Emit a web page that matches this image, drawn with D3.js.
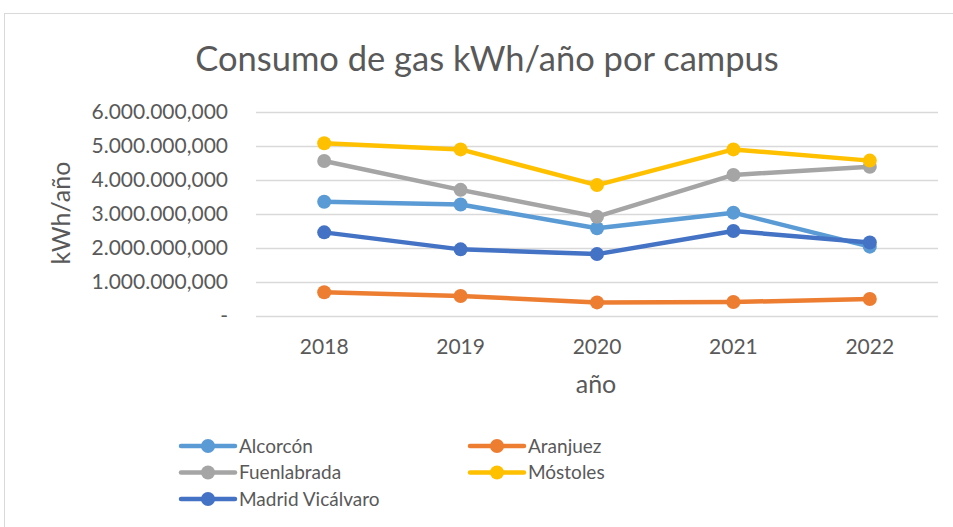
<!DOCTYPE html>
<html>
<head>
<meta charset="utf-8">
<script src="https://cdn.jsdelivr.net/npm/d3@7"></script>
<style>
  body { margin: 0; background: #fff; }
  svg text { font-family: Lato, "Open Sans", sans-serif; fill: #595959; }
</style>
</head>
<body>
<div class="chart"></div>
<script>
// data
const years = ["2018", "2019", "2020", "2021", "2022"];
const seriesNames = ["Alcorcón", "Aranjuez", "Fuenlabrada", "Móstoles", "Madrid Vicálvaro"];
const alcorcon = [3.36e6, 3.28e6, 2.58e6, 3.04e6, 2.04e6];
const aranjuez = [0.70e6, 0.59e6, 0.40e6, 0.41e6, 0.50e6];
const fuenlabrada = [4.56e6, 3.71e6, 2.92e6, 4.15e6, 4.39e6];
const mostoles = [5.08e6, 4.90e6, 3.85e6, 4.90e6, 4.57e6];
const vicalvaro = [2.46e6, 1.96e6, 1.82e6, 2.50e6, 2.16e6];
const yTicks = [0, 1e6, 2e6, 3e6, 4e6, 5e6, 6e6];
const colors = ["#5B9BD5", "#ED7D31", "#A5A5A5", "#FFC000", "#4472C4"];

const allValues = [alcorcon, aranjuez, fuenlabrada, mostoles, vicalvaro];
const series = seriesNames.map((name, i) => ({ name: name, values: allValues[i], color: colors[i] }));

// size of the chart
const w = 953, h = 527;
const plot = { left: 256, right: 938, top: 112, bottom: 316 };

const svg = d3.select("div.chart")
    .append("svg")
    .attr("width", w)
    .attr("height", h);

// chart border
svg.append("rect")
    .attr("x", 4.5).attr("y", 13.5)
    .attr("width", 960).attr("height", 530)
    .attr("fill", "#fff")
    .attr("stroke", "#d9d9d9");

// scales
const xScale = d3.scaleBand()
    .domain(years)
    .range([plot.left, plot.right]);

const yScale = d3.scaleLinear()
    .domain([0, 6e6])
    .range([plot.bottom, plot.top]);

// spanish number format
const es = d3.formatLocale({ decimal: ",", thousands: ".", grouping: [3], currency: ["", "€"] });
const fmt = es.format(",.3f");

// y axis with grid
const yAxis = d3.axisLeft(yScale)
    .tickValues(yTicks)
    .tickSize(-(plot.right - plot.left))
    .tickPadding(28)
    .tickFormat(d => d === 0 ? "-" : fmt(d));

const gy = svg.append("g")
    .attr("transform", "translate(" + plot.left + ",0)")
    .call(yAxis);
gy.select(".domain").remove();
gy.selectAll("line").attr("stroke", "#d9d9d9").attr("stroke-width", 1.3);
gy.selectAll("text").style("font-size", "21px");

// x axis
const xAxis = d3.axisBottom(xScale).tickSize(0).tickPadding(23);
const gx = svg.append("g")
    .attr("transform", "translate(0," + plot.bottom + ")")
    .call(xAxis);
gx.select(".domain").remove();
gx.selectAll("text").style("font-size", "21px");

// title and axis titles
svg.append("text")
    .attr("x", 487).attr("y", 71)
    .attr("text-anchor", "middle")
    .style("font-size", "34.5px")
    .text("Consumo de gas kWh/año por campus");

svg.append("text")
    .attr("x", 596).attr("y", 393)
    .attr("text-anchor", "middle")
    .style("font-size", "25px")
    .text("año");

svg.append("text")
    .attr("transform", "translate(70,213) rotate(-90)")
    .attr("text-anchor", "middle")
    .style("font-size", "25px")
    .text("kWh/año");

// lines and markers
const line = d3.line()
    .x((d, i) => xScale(years[i]) + xScale.bandwidth() / 2)
    .y(d => yScale(d));

series.forEach(s => {
    svg.append("path")
        .datum(s.values)
        .attr("d", line)
        .attr("fill", "none")
        .attr("stroke", s.color)
        .attr("stroke-width", 4.5)
        .attr("stroke-linejoin", "round");
    svg.selectAll(null)
        .data(s.values)
        .enter()
        .append("circle")
        .attr("cx", (d, i) => xScale(years[i]) + xScale.bandwidth() / 2)
        .attr("cy", d => yScale(d))
        .attr("r", 7)
        .attr("fill", s.color);
});

// legend, two columns filled row by row
const legend = svg.append("g");
series.forEach((s, i) => {
    const lx = i % 2 === 0 ? 181 : 470;
    const ly = 446 + Math.floor(i / 2) * 26.5;
    const g = legend.append("g").attr("transform", "translate(" + lx + "," + ly + ")");
    g.append("line")
        .attr("x1", 0).attr("x2", 54)
        .attr("stroke", s.color)
        .attr("stroke-width", 4.5)
        .attr("stroke-linecap", "round");
    g.append("circle").attr("cx", 27).attr("r", 7).attr("fill", s.color);
    g.append("text")
        .attr("x", 58).attr("dy", "0.35em")
        .style("font-size", "19px")
        .text(s.name);
});
</script>
</body>
</html>
